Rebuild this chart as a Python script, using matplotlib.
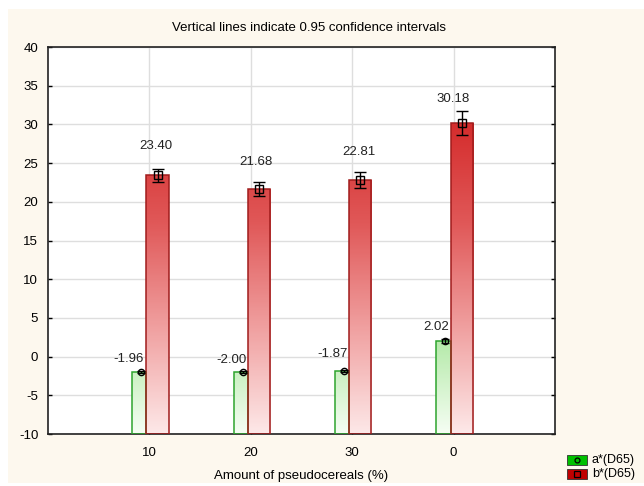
import numpy as np
import matplotlib
matplotlib.use("Agg")
import matplotlib.pyplot as plt
from matplotlib.colors import LinearSegmentedColormap
from matplotlib.patches import Rectangle
from matplotlib.lines import Line2D

plt.rcParams['font.family'] = ['Liberation Sans', 'DejaVu Sans']
plt.rcParams['axes.unicode_minus'] = False

# Data
categories = ["10", "20", "30", "0"]
a_values = [-1.96, -2.00, -1.87, 2.02]
b_values = [23.40, 21.68, 22.81, 30.18]
a_ci = [0.15, 0.15, 0.15, 0.20]
b_ci = [0.85, 0.90, 1.05, 1.50]
yticks = list(range(-10, 45, 5))
series_names = ["a*(D65)", "b*(D65)"]

# Label offsets (points) relative to each point's mean
a_label_off = [(-9, 9), (-8, 9), (-8, 12), (-7, 10)]
b_label_off = [(-1, 21), (-2, 19), (-1, 20), (-6, 17)]

fig = plt.figure(figsize=(6.44, 4.86), dpi=100)
fig.patch.set_facecolor("white")
fig.patches.append(Rectangle((8 / 644, 3 / 486), 1 - 8 / 644, 1 - 12 / 486,
                             transform=fig.transFigure, facecolor="#fdf8ee",
                             edgecolor="none", zorder=-10))

ax = fig.add_axes([48 / 644, 1 - 434 / 486, 507 / 644, 387 / 486])
ax.set_facecolor("white")
ymin, ymax = -10, 40
ax.set_xlim(0, 5)
ax.set_ylim(ymin, ymax)

x = np.arange(1, len(categories) + 1)

red_cmap = LinearSegmentedColormap.from_list("r", ["#fde8e8", "#f0a0a0", "#e05858", "#d42a2a"])
green_cmap = LinearSegmentedColormap.from_list("g", ["#f6fef4", "#b2e9a6"])


def gradient_bar(x0, x1, top, cmap, vtop, edge):
    rect = Rectangle((x0, ymin), x1 - x0, top - ymin, facecolor="none",
                     edgecolor=edge, linewidth=1.1, zorder=3)
    ax.add_patch(rect)
    frac = (top - ymin) / (vtop - ymin)
    g = np.linspace(0, min(frac, 1.0), 256).reshape(-1, 1)
    im = ax.imshow(g, extent=(x0, x1, ymin, top), origin="lower", aspect="auto",
                   cmap=cmap, vmin=0, vmax=1, zorder=2, interpolation="bilinear")
    clip = Rectangle((x0, ymin), x1 - x0, top - ymin, transform=ax.transData)
    im.set_clip_path(clip)


for xi, av, bv in zip(x, a_values, b_values):
    gradient_bar(xi - 0.17, xi - 0.03, av, green_cmap, 2.5, "#2ea42e")
    gradient_bar(xi - 0.03, xi + 0.19, bv, red_cmap, 31.0, "#a01c1c")

# Means with confidence intervals
ax.errorbar(x - 0.08, a_values, yerr=a_ci, fmt="o", ms=4.5, mfc="none",
            mec="black", mew=1.0, ecolor="black", elinewidth=1.0, capsize=3,
            capthick=1.0, zorder=5)
ax.errorbar(x + 0.08, b_values, yerr=b_ci, fmt="s", ms=6, mfc="none",
            mec="black", mew=1.0, ecolor="black", elinewidth=1.0, capsize=4,
            capthick=1.0, zorder=5)

for xi, v, off in zip(x - 0.08, a_values, a_label_off):
    ax.annotate(f"{v:.2f}", (xi, v), xytext=off, textcoords="offset points",
                ha="center", va="center", fontsize=9.5, color="#222222")
for xi, v, off in zip(x + 0.08, b_values, b_label_off):
    ax.annotate(f"{v:.2f}", (xi, v), xytext=off, textcoords="offset points",
                ha="center", va="center", fontsize=9.5, color="#222222")

ax.set_xticks(x)
ax.set_xticklabels(categories)
ax.set_yticks(yticks)
ax.grid(True, color="#dedede", linewidth=1.0, zorder=0)
ax.set_axisbelow(True)
ax.tick_params(direction="in", length=3, width=1, top=False, right=True,
               labelsize=9.5, colors="black")
ax.tick_params(axis="x", pad=9)
ax.tick_params(axis="y", pad=7)
for s in ax.spines.values():
    s.set_linewidth(1.2)
    s.set_color("#222222")

ax.set_xlabel("Amount of pseudocereals (%)", fontsize=9.5, labelpad=8)
fig.text(0.48, 1 - 28 / 486, "Vertical lines indicate 0.95 confidence intervals",
         ha="center", va="center", fontsize=9.5)

# legend swatches
for i, (fc, mk) in enumerate([("#00c000", "o"), ("#c00000", "s")]):
    yc = 1 - (460 + i * 14) / 486
    fig.patches.append(Rectangle((567 / 644, yc - 5 / 486), 20 / 644, 10 / 486,
                                 transform=fig.transFigure, facecolor=fc,
                                 edgecolor="#333333", linewidth=0.6))
    fig.lines.append(Line2D([577 / 644], [yc], transform=fig.transFigure,
                            marker=mk, markersize=3.5 if mk == "o" else 4,
                            mfc="none", mec="black", mew=0.9))
    fig.text(592 / 644, yc, series_names[i], ha="left", va="center",
             fontsize=9)

fig.savefig("out.png", dpi=100)
